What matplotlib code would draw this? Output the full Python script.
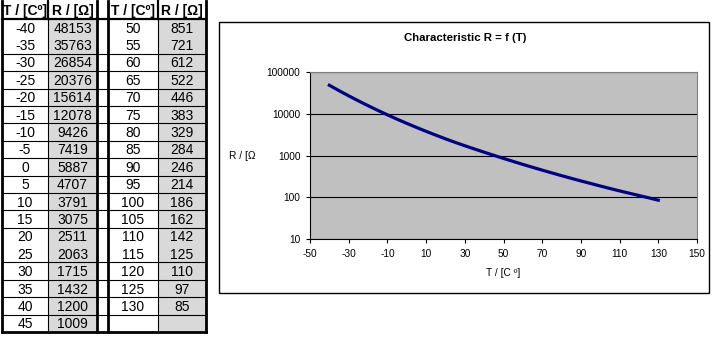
import matplotlib.pyplot as plt
import matplotlib.ticker as mtick
from matplotlib.patches import Rectangle

plt.rcParams['font.family'] = ['Liberation Sans', 'DejaVu Sans']
plt.rcParams['axes.unicode_minus'] = False

# thermistor characteristic: temperature [C] vs resistance [Ohm]
temps = [-40, -35, -30, -25, -20, -15, -10, -5, 0, 5, 10, 15, 20, 25, 30, 35, 40, 45,
         50, 55, 60, 65, 70, 75, 80, 85, 90, 95, 100, 105, 110, 115, 120, 125, 130]
resist = [48153, 35763, 26854, 20376, 15614, 12078, 9426, 7419, 5887, 4707, 3791, 3075,
          2511, 2063, 1715, 1432, 1200, 1009,
          851, 721, 612, 522, 446, 383, 329, 284, 246, 214, 186, 162, 142, 125, 110, 97, 85]
headers = ['T / [Cº]', 'R / [Ω]']
xticks = list(range(-50, 151, 20))
yticks = [10, 100, 1000, 10000, 100000]

fig = plt.figure(figsize=(7.17, 3.37), dpi=100)
W, H = 717, 337

# pixel-space canvas for the two value tables and the chart frame
tab = fig.add_axes([0, 0, 1, 1])
tab.set_xlim(0, W)
tab.set_ylim(H, 0)
tab.axis('off')

n_rows = 18
top, head_h, bottom = 1, 19, 332
row_h = (bottom - head_h) / n_rows
tables = [(2, 48, 97, temps[:18], resist[:18]),
          (108, 158, 206, temps[18:], resist[18:])]

for x0, xm, x1, tv, rv in tables:
    # grey R column (including the empty last row)
    tab.add_patch(Rectangle((xm, head_h), x1 - xm, bottom - head_h,
                            facecolor='#d9d9d9', edgecolor='none', zorder=1))
    tab.text((x0 + xm) / 2, (top + head_h) / 2 + 1, headers[0], ha='center', va='center',
             fontsize=10, fontweight='bold', zorder=3)
    tab.text((xm + x1) / 2, (top + head_h) / 2 + 1, headers[1], ha='center', va='center',
             fontsize=10, fontweight='bold', zorder=3)
    for i, (t, r) in enumerate(zip(tv, rv)):
        yc = head_h + (i + 0.5) * row_h + 1
        tab.text((x0 + xm) / 2, yc, str(t), ha='center', va='center', fontsize=10, zorder=3)
        tab.text((xm + x1) / 2, yc, str(r), ha='center', va='center', fontsize=10, zorder=3)
    # column borders
    tab.plot([x0, x0], [top, bottom], color='black', lw=2, zorder=4)
    tab.plot([x1, x1], [top, bottom], color='black', lw=2, zorder=4)
    tab.plot([xm, xm], [top, head_h], color='black', lw=1.6, zorder=4)
    tab.plot([xm, xm], [head_h, bottom], color='black', lw=0.8, zorder=4)

# row lines run across both tables
for i in range(1, n_rows):
    if i in (1, 13):
        continue
    y = head_h + i * row_h
    tab.plot([2, 206], [y, y], color='black', lw=0.8, zorder=2)
tab.plot([2, 206], [head_h, head_h], color='black', lw=1.6, zorder=4)
tab.plot([2, 206], [bottom, bottom], color='black', lw=2, zorder=4)

# chart frame and title
tab.add_patch(Rectangle((219, 22), 490, 271, facecolor='white', edgecolor='black',
                        lw=1, zorder=1))
tab.text(465, 38, 'Characteristic R = f (T)', ha='center', va='center',
         fontsize=8.2, fontweight='bold')

ax = fig.add_axes([310 / W, 1 - 239 / H, 387 / W, 167 / H])
ax.set_facecolor('#c0c0c0')
ax.plot(temps, resist, color='#000080', lw=2.3)
ax.set_yscale('log')
ax.set_xlim(-50, 150)
ax.set_ylim(10, 100000)
ax.set_xticks(xticks)
ax.set_yticks(yticks)
ax.yaxis.set_minor_locator(mtick.NullLocator())
ax.get_yaxis().set_major_formatter(mtick.FuncFormatter(lambda v, p: format(int(v), 'd')))
ax.grid(axis='y', color='black', lw=0.8)
ax.tick_params(direction='out', length=3, width=0.8, labelsize=7.3, pad=4)
for side in ('top', 'right'):
    ax.spines[side].set_color('#808080')
for side in ('left', 'bottom'):
    ax.spines[side].set_linewidth(0.8)

ax.set_xlabel('T / [C º]', fontsize=7.3, labelpad=7)
ax.set_ylabel('R / [Ω', fontsize=7.3, rotation=0, ha='center', va='center')
ax.yaxis.set_label_coords(-0.176, 0.497)

fig.savefig('out.png', dpi=100)
